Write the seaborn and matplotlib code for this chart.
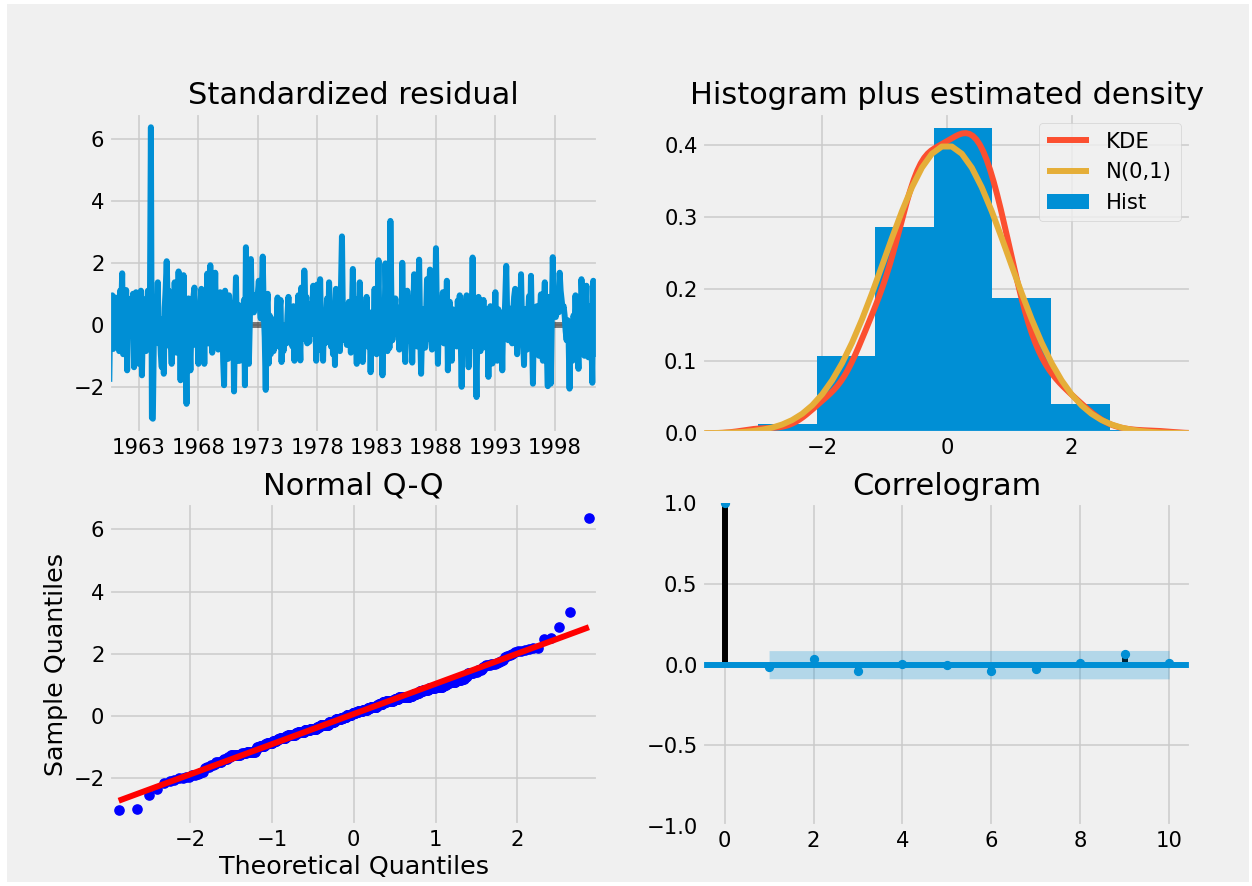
import datetime
import numpy as np
import pandas as pd
import matplotlib
matplotlib.use("Agg")
import matplotlib.pyplot as plt
import matplotlib.dates as mdates
from matplotlib.patches import Rectangle, Patch
from matplotlib.lines import Line2D
import seaborn as sns
from statistics import NormalDist

# ---------------- data ----------------
# standardized residuals, monthly, starting July 1960
std_resid = [
    -1.84, 0.63, -0.35, 0.95, -0.78, 0.22, 0.88, -0.45, 0.02, 0.66, -0.85, 1.1,
    0.45, 1.66, -0.95, -0.06, -0.42, 1.12, -1.47, 0.51, -0.18, 0.84, -0.3, 0.15,
    1.0, -1.37, 0.32, 1.05, -0.55, 0.72, -1.26, -0.4, 1.1, -1.63, 0.12, -0.3,
    0.82, -0.85, 0.48, 1.1, -0.2, 0.52, 6.37, -3.0, -3.03, -0.5, 0.25, -0.3,
    0.3, 1.37, -0.6, -0.08, -0.95, -1.37, 0.18, -1.58, 0.55, 1.2, 2.05, 0.7,
    1.1, -0.7, -0.45, -1.26, 0.5, -0.35, 1.37, 0.02, -0.9, 0.28, 1.72, 0.62,
    -1.79, 0.6, -0.45, 1.6, -0.12, -0.8, -2.55, -0.05, 0.85, -0.5, -1.47, 0.12,
    -0.3, 0.9, 1.2, -0.65, 0.15, -0.28, -1.26, 0.45, 0.62, 1.16, -0.75, 0.68,
    -1.26, 0.95, 0.25, 1.65, -0.6, -0.02, 1.92, -0.35, -0.9, 0.75, 0.12, 1.68,
    -0.45, 1.0, -0.8, 0.6, 1.05, -0.18, 0.58, -1.18, -1.95, 1.1, -0.55, 0.05,
    -1.1, 0.95, 0.48, -0.4, -0.98, 0.5, -2.15, 0.3, 1.53, -0.7, -1.16, 0.63,
    -1.16, 0.2, -0.5, -0.65, 0.8, -1.95, 2.5, -0.3, 0.6, -1.26, 0.15, 2.12,
    0.5, 0.85, 0.4, 0.95, 0.74, 0.6, 1.0, 1.42, 0.55, 0.2, 0.9, 2.2,
    0.45, -0.4, -2.1, 0.6, 1.0, -1.25, 0.3, -0.95, -0.32, -0.6, -0.85, 0.18,
    -0.3, 0.05, 0.88, -0.7, 0.5, 0.8, -1.2, -0.02, -0.85, -0.2, -0.05, -0.6,
    0.3, 0.9, -0.45, 0.55, -0.1, -0.7, 0.6, -1.16, 0.1, 0.4, -0.38, 0.95,
    -0.2, -1.15, 1.2, 0.03, -0.45, 1.75, 0.6, 0.9, -0.6, 0.1, -0.55, 0.65,
    -0.3, 0.45, 1.26, -0.2, 0.5, -1.16, 1.3, -0.05, -0.8, 1.47, -0.1, -0.45,
    -1.16, 0.4, -0.6, 0.12, 0.85, -0.55, 1.37, 0.57, -0.7, 0.3, -0.95, 0.55,
    -1.3, 1.16, -0.4, 0.6, -0.15, -0.85, 1.16, 2.85, 0.3, -0.25, -0.5, 0.08,
    -0.65, 0.3, 0.74, 0.1, -0.9, 0.18, 1.8, -0.35, 0.84, -0.02, -1.26, 0.64,
    -0.5, 1.37, 0.25, 0.55, -1.2, -0.5, 0.1, -0.3, 0.9, -0.7, -0.2, 0.4,
    -1.53, -0.04, 0.2, -0.08, 1.16, -0.3, -0.95, 0.45, 2.08, -0.45, -0.02, 0.6,
    -1.63, 0.05, -0.2, 1.98, 0.5, -0.85, 0.15, -0.75, 3.35, 0.8, -0.5, -0.1,
    0.4, 0.85, -0.3, 0.45, 0.55, -0.8, 0.18, -0.6, 2.0, 0.12, -0.42, -1.2,
    0.25, 1.1, 0.71, -0.5, 0.6, -0.05, -1.22, 0.3, 1.63, -0.4, 0.18, -0.7,
    0.35, 2.1, -0.1, -1.58, -0.15, 0.5, -0.4, -0.74, 0.2, 1.47, -0.45, 0.9,
    1.78, -0.35, -0.8, 0.45, 0.95, -0.27, 2.47, 0.1, -1.26, 0.3, 0.66, -0.5,
    0.6, 1.05, -0.6, 0.25, -0.08, 1.42, -1.47, 0.2, 0.74, -0.4, -1.16, 0.5,
    -0.16, -0.65, 0.15, -0.7, 0.78, -0.02, 0.95, -0.45, -2.0, 0.22, 0.05, -0.55,
    0.6, 0.95, -0.3, -1.37, 0.45, -0.7, -0.1, 2.17, -0.2, 0.35, -0.6, -2.33,
    0.1, 0.9, -0.5, -0.85, 0.68, -0.05, 0.8, -0.33, 0.5, -0.75, 0.02, -1.68,
    0.35, 0.6, -0.4, -1.25, 0.12, 0.02, 1.05, -0.3, -1.16, 0.5, 0.2, -0.6,
    0.3, -1.47, 0.4, -0.1, 0.85, 1.9, 0.2, -0.5, 0.53, -0.42, 0.03, -0.6,
    0.4, 0.9, 1.16, 0.25, -0.95, -0.12, 0.55, -0.3, 1.63, 0.05, -0.4, -1.3,
    0.5, -0.3, -0.8, 0.2, 0.92, -0.5, 1.58, -0.25, -1.9, 0.3, -0.05, 0.1,
    0.6, -0.3, -1.0, 0.35, 0.98, -0.6, -1.16, 0.64, 1.37, -0.4, -0.85, -1.98,
    0.9, -0.1, -1.9, 0.2, 2.18, 0.6, 0.5, 0.25, 0.95, 0.7, 0.4, 1.68,
    1.1, 0.8, 0.5, 0.6, 0.3, -0.2, -0.5, 0.15, -0.35, -2.06, 0.02, 0.08,
    -1.16, 0.3, -0.08, 0.95, 0.1, -0.6, -1.42, 0.7, -0.2, 1.47, 0.72, -0.7,
    -1.0, 0.4, 1.26, -0.45, -1.05, 0.6, 0.2, -0.4, -1.87, 1.42, -0.02, 0.55,
    -0.3, -0.95, 0.84,
]
start_month = "1960-07-01"
year_ticks = [1963, 1968, 1973, 1978, 1983, 1988, 1993, 1998]

acf_lags = [0, 1, 2, 3, 4, 5, 6, 7, 8, 9, 10]
acf_values = [1.0, -0.014, 0.033, -0.039, 0.006, -0.004, -0.039, -0.029, 0.012, 0.066, 0.012]
conf_half = [0.087, 0.087, 0.087, 0.088, 0.088, 0.088, 0.088, 0.088, 0.088, 0.088]  # lags 1..10

# ---------------- style ----------------
plt.style.use("fivethirtyeight")
plt.rcParams["font.family"] = ["DejaVu Sans"]
plt.rcParams["font.size"] = 15.2
plt.rcParams["lines.linewidth"] = 4.3
plt.rcParams["grid.linewidth"] = 1.1

C_BLUE, C_RED, C_YEL = "#008fd5", "#fc4f30", "#e5ae38"
LW = 4.3
W, H = 1252, 886
fig = plt.figure(figsize=(W / 100, H / 100), dpi=100, facecolor="white")
fig.add_artist(Rectangle((7 / W, 4 / H), (W - 10) / W, (H - 8) / H,
                         transform=fig.transFigure, facecolor="#f0f0f0",
                         edgecolor="none", zorder=-5))


def px_axes(l, t, r, b):
    return fig.add_axes([l / W, 1 - b / H, (r - l) / W, (b - t) / H])


ax1 = px_axes(109.3, 112.7, 598.3, 433.3)
ax2 = px_axes(702.4, 112.7, 1191.3, 433.3)
ax3 = px_axes(109.3, 503.3, 598.3, 825.0)
ax4 = px_axes(702.4, 503.3, 1191.3, 826.0)

resid = np.array(std_resid, dtype=float)
dates = pd.date_range(start_month, periods=len(resid), freq="MS")

# ---- Standardized residual ----
sns.lineplot(x=dates, y=resid, ax=ax1, color=C_BLUE, linewidth=LW, zorder=2)
ax1.hlines(0, dates[0], dates[-1], colors="k", alpha=0.5, linewidth=LW, zorder=1)
ax1.set_xlim(dates[0], dates[-1])
ax1.set_xticks([datetime.date(y, 1, 1) for y in year_ticks])
ax1.xaxis.set_major_formatter(mdates.DateFormatter("%Y"))
ax1.set_xlabel("")
ax1.set_ylabel("")
ax1.set_title("Standardized residual")

# ---- Histogram plus estimated density ----
sns.histplot(x=resid, bins=10, stat="density", ax=ax2, color=C_BLUE,
             alpha=1, edgecolor="none", linewidth=0)
sns.kdeplot(x=resid, ax=ax2, color=C_RED, linewidth=LW)
nd = NormalDist()
xs = np.linspace(-1.96 * 2, 1.96 * 2, 50)
sns.lineplot(x=xs, y=np.array([nd.pdf(v) for v in xs]), ax=ax2,
             color=C_YEL, linewidth=LW)
ax2.set_xlim(-1.96 * 2, 1.96 * 2)
ax2.set_xticks([-2, 0, 2])
ax2.set_yticks([0.0, 0.1, 0.2, 0.3, 0.4])
ax2.set_xlabel("")
ax2.set_ylabel("")
handles = [Line2D([], [], color=C_RED, linewidth=LW),
           Line2D([], [], color=C_YEL, linewidth=LW),
           Patch(facecolor=C_BLUE, edgecolor="none")]
ax2.legend(handles, ["KDE", "N(0,1)", "Hist"], loc="upper right")
ax2.set_title("Histogram plus estimated density")

# ---- Normal Q-Q ----
n = len(resid)
theo = np.array([nd.inv_cdf(i / (n + 1)) for i in range(1, n + 1)])
sample = np.sort(resid)
slope, intercept = resid.std(), resid.mean()
sns.scatterplot(x=theo, y=sample, ax=ax3, color="blue", s=44,
                edgecolor="blue", linewidth=1)
sns.lineplot(x=theo, y=slope * theo + intercept, ax=ax3, color="red", linewidth=LW)
ax3.margins(x=0.02)
ax3.autoscale_view()
ax3.set_xlabel("Theoretical Quantiles")
ax3.set_ylabel("Sample Quantiles")
ax3.set_title("Normal Q-Q")

# ---- Correlogram ----
ax4.vlines(acf_lags, 0, acf_values, colors="k", linewidth=LW, zorder=1)
ax4.axhline(0, color=C_BLUE, linewidth=LW, zorder=2)
sns.scatterplot(x=acf_lags, y=acf_values, ax=ax4, color=C_BLUE, s=32,
                edgecolor=C_BLUE, linewidth=1, zorder=3)
ax4.fill_between(acf_lags[1:], [-c for c in conf_half], conf_half,
                 color=C_BLUE, alpha=0.25, linewidth=0)
ax4.set_xlim(-0.5, 10.5)
ax4.set_ylim(-1, 1)
ax4.set_yticks([-1.0, -0.5, 0.0, 0.5, 1.0])
ax4.set_xticks([0, 2, 4, 6, 8, 10])
ax4.set_xlabel("")
ax4.set_ylabel("")
ax4.set_title("Correlogram")

fig.savefig("out.png", dpi=100, facecolor="white")
